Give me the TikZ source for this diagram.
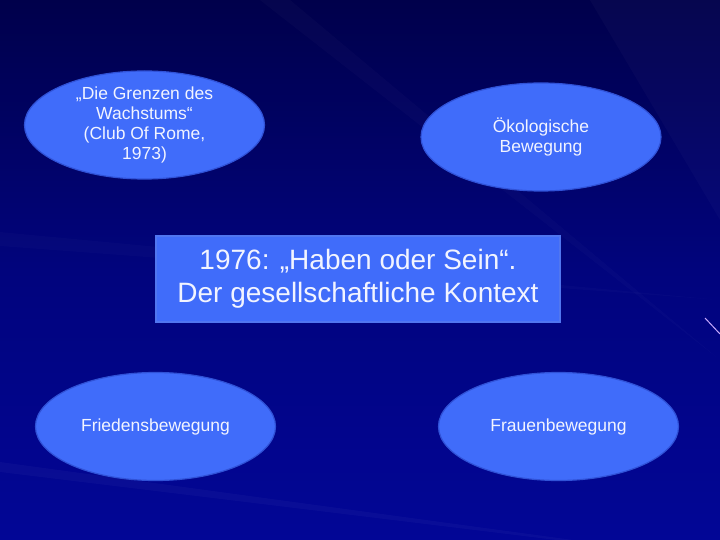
\documentclass[tikz,border=0pt]{standalone}
\usepackage{fontspec}
\setmainfont{Liberation Sans}
\usetikzlibrary{shapes.geometric}
\definecolor{bgdark}{RGB}{0,0,75}
\definecolor{bgmid}{RGB}{1,4,125}
\definecolor{bgblue}{RGB}{2,6,150}
\definecolor{bubble}{RGB}{64,108,250}
\definecolor{bubbleline}{RGB}{48,82,215}
\definecolor{boxline}{RGB}{80,118,240}
\definecolor{softwhite}{RGB}{242,244,255}
\definecolor{streak}{RGB}{200,170,255}

\begin{document}
\begin{tikzpicture}[x=1pt, y=-1pt,
    bubble/.style={ellipse, draw=bubbleline, line width=1.2pt, fill=bubble,
      minimum width=240pt, minimum height=108pt, inner sep=0pt,
      text=softwhite, align=center, font=\fontsize{17.5}{20}\selectfont},
    titlebox/.style={rectangle, draw=boxline, line width=1.5pt, fill=bubble,
      minimum width=404pt, minimum height=86pt, inner sep=0pt,
      text=softwhite, align=center, font=\fontsize{28}{33}\selectfont}]

    % Hintergrund
    \shade[top color=bgdark, bottom color=bgblue, middle color=bgmid]
      (0, 0) rectangle (720, 540);
    \useasboundingbox (0, 0) rectangle (720, 540);
    \fill[white, opacity=0.025] (720, 0) -- (590, 0) -- (720, 220) -- cycle;
    \fill[white, opacity=0.02] (720, 300) -- (0, 232) -- (0, 246) -- cycle;
    \fill[white, opacity=0.03] (720, 560) -- (0, 462) -- (0, 472) -- cycle;
    \fill[white, opacity=0.02] (720, 360) -- (260, 0) -- (290, 0) -- cycle;
    \draw[streak, line width=1pt] (705, 318) -- (720, 334);

    % Blasen
    \node[bubble] (grenzen) at (144.5, 125)
      {„Die Grenzen des\\Wachstums“\\(Club Of Rome,\\1973)};
    \node[bubble] (oeko) at (541, 137) {Ökologische\\Bewegung};
    \node[bubble] (frieden) at (155.5, 426.5) {Friedensbewegung};
    \node[bubble] (frauen) at (558.5, 426.5) {Frauenbewegung};

    % Titel
    \node[titlebox] (kontext) at (358, 279)
      {1976: „Haben oder Sein“.\\Der gesellschaftliche Kontext};

  \end{tikzpicture}
\end{document}
